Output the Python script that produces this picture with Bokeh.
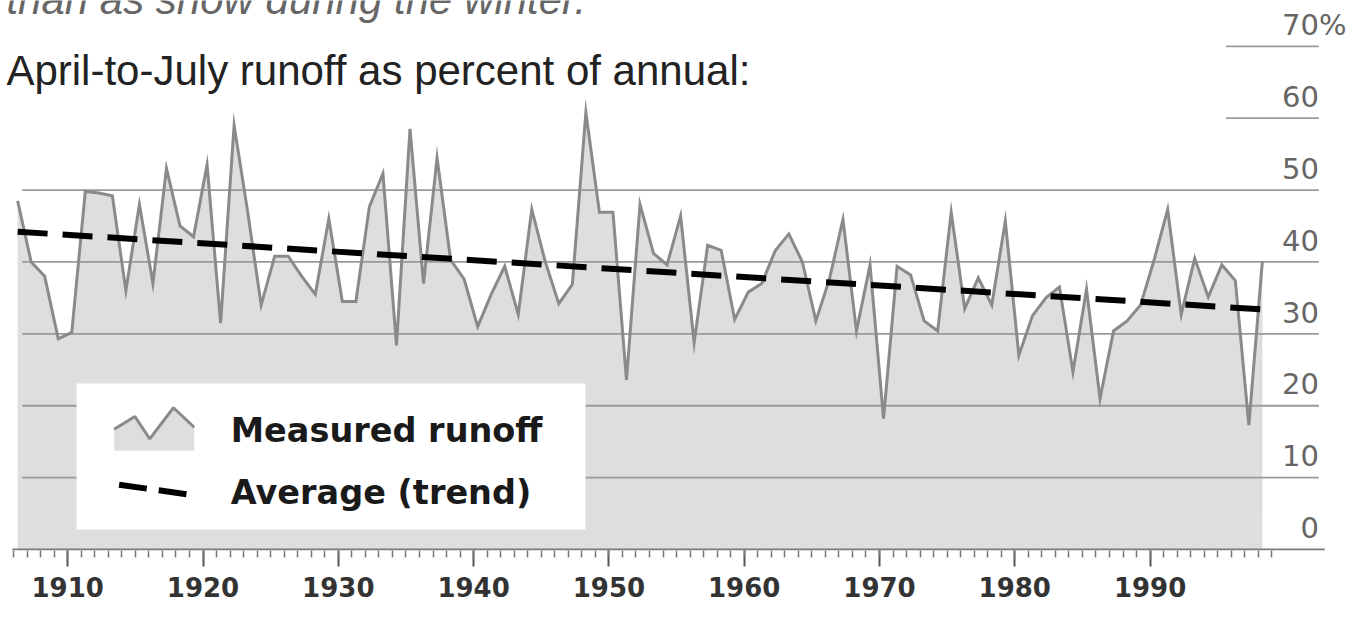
from bokeh.plotting import figure
from bokeh.models import Range1d, FixedTicker
from bokeh.core.properties import value
from bokeh.embed import file_html
from bokeh.resources import INLINE

# ---------------- data ----------------
years = list(range(1906, 1999))
runoff_pct = [48.5, 40, 38, 29.3, 30.2, 49.8, 49.6, 49.2, 36, 48,
              37, 53, 45, 43.5, 53.5, 31.5, 59, 47, 34, 40.8,
              40.8, 38, 35.5, 46, 34.5, 34.5, 47.7, 52.3, 28.4, 58.5,
              37, 54.5, 40.3, 37.6, 31, 35.5, 39.4, 32.7, 47.3, 40,
              34.2, 36.9, 60.8, 46.9, 46.9, 23.6, 48, 41.2, 39.6, 46.4,
              28.8, 42.3, 41.6, 32, 35.8, 37, 41.6, 43.9, 40, 31.8,
              37.6, 45.9, 30.4, 39.6, 18.2, 39.4, 38.2, 31.8, 30.4, 46.9,
              33.5, 37.8, 34, 45.7, 27, 32.5, 35, 36.5, 24.7, 36.2,
              21, 30.4, 31.8, 34, 40.3, 47.3, 32.7, 40.5, 35.1, 39.6,
              37.4, 17.3, 40.1]
trend_years = [1906, 1998]
trend_pct = [44.2, 33.4]

x_ticks = [1910, 1920, 1930, 1940, 1950, 1960, 1970, 1980, 1990]
x_tick_labels = ["1910", "1920", "1930", "1940", "1950", "1960", "1970", "1980", "1990"]
y_ticks = [0, 10, 20, 30, 40, 50, 60, 70]
y_tick_labels = ["0", "10", "20", "30", "40", "50", "60", "70"]

title = "April-to-July runoff as percent of annual:"
intro_tail = "than as snow during the winter."
legend_labels = ["Measured runoff", "Average (trend)"]

# ---------------- layout helpers (reference pixels -> data) ----------------
W, H = 1351, 607
REF_W, REF_H = 1367, 623
KY = H / REF_H
MB = 57
FB = H - MB                       # frame bottom, canvas px
ZERO_REF = (FB - 1) / KY          # reference px of the 0 % line
REF_S = (ZERO_REF - 47) / 70      # reference px per percent
PXY = 13.69                       # reference px per year
TXT_FIX = 12                      # canvas px correction for text baselines


def px_x(px):
    return 1910 + (px - 68) / PXY


def px_y(py):
    return (ZERO_REF - py) / REF_S


def txt_y(py):
    return px_y(py - TXT_FIX / KY)


Y1 = px_y(0)
Y0 = px_y(FB / KY)

X_OFF = 0.3
xs = [y + X_OFF for y in years]
trend_x = [y + X_OFF for y in trend_years]

p = figure(width=W, height=H, output_backend="svg", toolbar_location=None,
           x_range=Range1d(px_x(0), px_x(REF_W)), y_range=Range1d(Y0, Y1),
           y_axis_location=None, min_border_left=0, min_border_right=0,
           min_border_top=0, min_border_bottom=MB, outline_line_color=None,
           background_fill_color="white", border_fill_color="white")
p.grid.visible = False

ax = p.xaxis[0]
ax.ticker = FixedTicker(ticks=x_ticks, minor_ticks=list(range(1906, 2000)))
ax.major_label_overrides = {t: l for t, l in zip(x_ticks, x_tick_labels)}
ax.axis_line_color = None
ax.major_tick_in = 0
ax.minor_tick_in = 0
ax.major_tick_out = 16
ax.minor_tick_out = 7
ax.major_tick_line_color = "#555555"
ax.major_tick_line_width = 2
ax.minor_tick_line_color = "#777777"
ax.minor_tick_line_width = 1.5
ax.major_label_standoff = 10
ax.major_label_text_font = "DejaVu Sans"
ax.major_label_text_font_style = "bold"
ax.major_label_text_font_size = "26px"
ax.major_label_text_color = "#333333"

# area + gridlines
p.varea(x=xs, y1=[0] * len(xs), y2=runoff_pct, fill_color="#dedede")
grid_vals = [10, 20, 30, 40, 50, 60, 70]
grid_x0 = [px_x(22) if v <= 50 else px_x(1240) for v in grid_vals]
p.segment(x0=grid_x0, y0=grid_vals, x1=[px_x(1334)] * len(grid_vals), y1=grid_vals,
          line_color="#9a9a9a", line_width=1.8)
p.segment(x0=[px_x(12)], y0=[0], x1=[px_x(1340)], y1=[0], line_color="#7a7a7a", line_width=2)

# series
p.line(xs, runoff_pct, line_color="#8a8a8a", line_width=3, line_join="miter")
p.line(trend_x, trend_pct, line_color="black", line_width=6, line_dash="30 15")

# legend box
p.quad(left=[px_x(77)], right=[px_x(592)], top=[px_y(393)], bottom=[px_y(543)],
       fill_color="white", line_color=None)
icon_px = [115, 136, 151, 175, 196]
icon_py = [440, 427, 450, 418, 438]
p.patch([px_x(v) for v in [115] + icon_px + [196]],
        [px_y(v) for v in [462] + icon_py + [462]], fill_color="#dedede", line_color=None)
p.line([px_x(v) for v in icon_px], [px_y(v) for v in icon_py], line_color="#8a8a8a", line_width=3)
p.line([px_x(120), px_x(197)], [px_y(497), px_y(508)], line_color="black", line_width=6,
       line_dash="28 12")
p.text(x=[px_x(233)] * 2, y=[txt_y(454), txt_y(517)], text=legend_labels,
       text_font=value("DejaVu Sans"), text_font_style="bold", text_font_size="33.5px",
       text_color="#1a1a1a", text_baseline="alphabetic", text_align="left")

# y labels on the right (baseline 10 reference px above each gridline)
lab_y = [px_y(ZERO_REF - v * REF_S - 10 - TXT_FIX / KY) for v in y_ticks]
p.text(x=[px_x(1334)] * len(y_ticks), y=lab_y, text=y_tick_labels,
       text_font=value("DejaVu Sans"), text_font_size="29px", text_color="#666666",
       text_align="right", text_baseline="alphabetic")
p.text(x=[px_x(1334)], y=[lab_y[-1]], text=["%"],
       text_font=value("DejaVu Sans"), text_font_size="29px", text_color="#666666",
       text_align="left", text_baseline="alphabetic")

# titles
p.text(x=[px_x(6)], y=[txt_y(84)], text=[title], text_font=value("Liberation Sans"),
       text_font_size="42px", text_color="#222222", text_baseline="alphabetic")
p.text(x=[px_x(6)], y=[txt_y(11)], text=[intro_tail], text_font=value("Liberation Sans"),
       text_font_style="italic", text_font_size="42px", text_color="#666666",
       text_baseline="alphabetic")

open("out.html", "w").write(file_html(p, INLINE))
